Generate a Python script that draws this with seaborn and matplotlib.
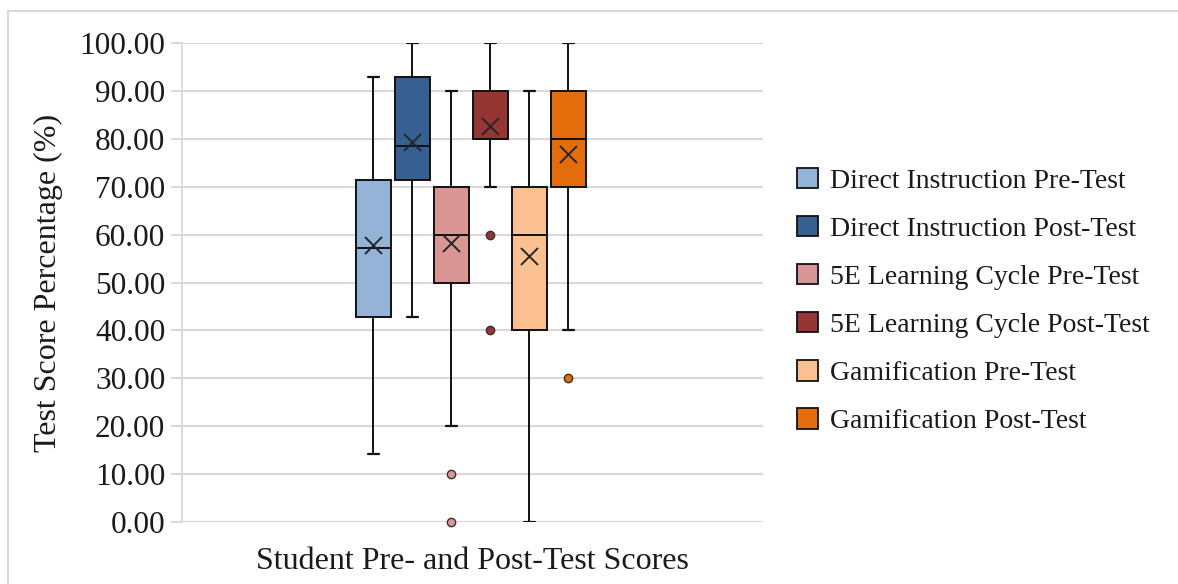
import matplotlib
matplotlib.use("Agg")
import matplotlib.pyplot as plt
from matplotlib.patches import Patch
from matplotlib.lines import Line2D
import seaborn as sns
import pandas as pd

# ---- data ----
groups = ["Direct Instruction Pre-Test", "Direct Instruction Post-Test",
          "5E Learning Cycle Pre-Test", "5E Learning Cycle Post-Test",
          "Gamification Pre-Test", "Gamification Post-Test"]
whisker_low = [14.3, 42.7, 20.0, 70.0, 0.0, 40.0]
q1 = [42.7, 71.4, 50.0, 80.0, 40.0, 70.0]
median = [57.1, 78.5, 60.0, 80.0, 60.0, 80.0]
q3 = [71.4, 93.0, 70.0, 90.0, 70.0, 90.0]
whisker_high = [93.0, 100.0, 90.0, 100.0, 90.0, 100.0]
means = [57.8, 79.3, 58.2, 82.7, 55.5, 76.8]
outliers = [[], [], [10.0, 0.0], [60.0, 40.0], [], [30.0]]
colors = ["#95B3D7", "#366092", "#DA9694", "#963634", "#FAC090", "#E46C0A"]
y_ticks = [0, 10, 20, 30, 40, 50, 60, 70, 80, 90, 100]

sns.set_theme(style="whitegrid")
plt.rcParams["font.family"] = ["Liberation Serif", "DejaVu Serif"]

fig = plt.figure(figsize=(11.78, 5.84), dpi=100)
ax = fig.add_axes([182 / 1178, 1 - 522 / 584, (763 - 182) / 1178, (522 - 43) / 584])

positions = list(range(len(groups)))
stats = []
for i in positions:
    stats.append(dict(whislo=whisker_low[i], q1=q1[i], med=median[i], q3=q3[i],
                      whishi=whisker_high[i], fliers=[], label=groups[i]))

bp = ax.bxp(stats, positions=positions, widths=0.92, patch_artist=True,
            showfliers=False, capwidths=0.28,
            boxprops=dict(edgecolor="#111111", linewidth=1.4),
            medianprops=dict(color="#111111", linewidth=1.4),
            whiskerprops=dict(color="#111111", linewidth=1.4),
            capprops=dict(color="#111111", linewidth=1.6), zorder=3)
for patch, c in zip(bp["boxes"], colors):
    patch.set_facecolor(c)

# means
mean_df = pd.DataFrame({"x": positions, "y": means})
sns.scatterplot(data=mean_df, x="x", y="y", marker="x", s=150, color="#262626",
                linewidth=1.4, ax=ax, zorder=5, legend=False)

# outliers
ox, oy, oc = [], [], []
for i, vals in enumerate(outliers):
    for v in vals:
        ox.append(i); oy.append(v); oc.append(colors[i])
out_df = pd.DataFrame({"x": ox, "y": oy, "c": oc})
for c, sub in out_df.groupby("c"):
    sns.scatterplot(data=sub, x="x", y="y", s=36, color=c, edgecolor="#333333",
                    linewidth=1.0, ax=ax, zorder=6, legend=False, clip_on=False)

ax.set_xlim(2.5 - (471 - 182) / 39, 2.5 + (763 - 471) / 39)
ax.set_ylim(0, 100)
ax.set_yticks(y_ticks)
ax.set_yticklabels([f"{v:.2f}" for v in y_ticks], fontsize=22.5, color="#1a1a1a")
ax.set_xticks([])
ax.grid(axis="y", color="#d9d9d9", linewidth=1.5)
ax.grid(axis="x", visible=False)
ax.set_axisbelow(True)
for s in ["top", "right", "bottom"]:
    ax.spines[s].set_visible(False)
ax.spines["left"].set_visible(True)
ax.spines["left"].set_color("#d9d9d9")
ax.spines["left"].set_linewidth(1.3)
ax.tick_params(axis="y", length=8, width=1.5, color="#d9d9d9", pad=4, left=True)
ax.set_ylabel("Test Score Percentage (%)", fontsize=23, color="#1a1a1a", labelpad=12)
ax.set_xlabel("Student Pre- and Post-Test Scores", fontsize=23, color="#1a1a1a", labelpad=18)

handles = [Patch(facecolor=c, edgecolor="#111111", linewidth=1.3, label=g)
           for c, g in zip(colors, groups)]
fig.legend(handles=handles, loc="center left", bbox_to_anchor=(772 / 1178, 1 - 301 / 584),
           frameon=False, fontsize=20, handlelength=0.75, handleheight=0.75,
           handletextpad=0.45, labelspacing=0.8, labelcolor="#1a1a1a")

# outer chart border (top and left visible)
fig.add_artist(Line2D([8 / 1178, 1.0], [1 - 11 / 584, 1 - 11 / 584],
                      transform=fig.transFigure, color="#d9d9d9", linewidth=1.5))
fig.add_artist(Line2D([8 / 1178, 8 / 1178], [0, 1 - 11 / 584],
                      transform=fig.transFigure, color="#d9d9d9", linewidth=1.5))

fig.savefig("out.png", dpi=100, facecolor="white")
